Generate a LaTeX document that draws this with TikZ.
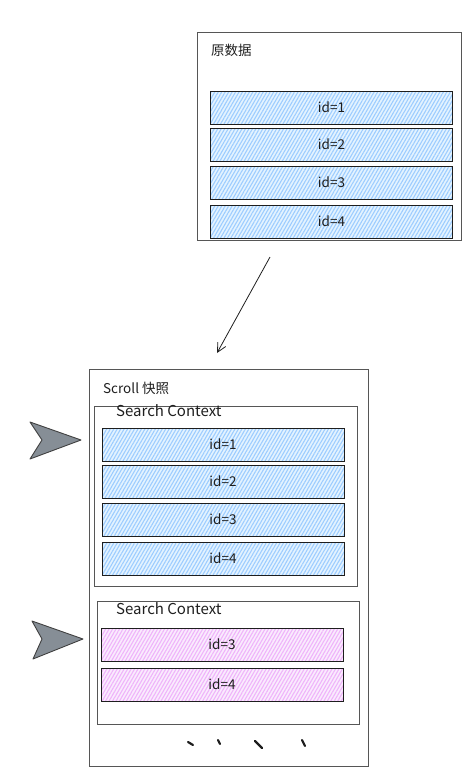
\documentclass[tikz,border=0pt]{standalone}
\usepackage{fontspec}
\setmainfont{Noto Sans CJK SC}
\usetikzlibrary{arrows.meta}
\usetikzlibrary{positioning, patterns.meta}
\definecolor{rowblue}{HTML}{A5D8FF}
\definecolor{rowpink}{HTML}{EEBEFA}
\definecolor{ink}{HTML}{1E1E1E}
\definecolor{pointergray}{HTML}{868E96}

\begin{document}
\begin{tikzpicture}[x=1pt, y=-1pt, >={Straight Barb[length=9pt, width=9pt]}]
		\tikzstyle{panel}=[rectangle, draw=ink!75, line width=.8pt, inner sep=0pt]
		\tikzstyle{heading}=[anchor=west, inner sep=0pt, text=ink, font=\fontsize{13.5}{15}\selectfont]
		\tikzstyle{row}=[rectangle, draw=ink, line width=1pt, minimum width=242pt, minimum height=33pt, inner sep=0pt, text=ink, font=\fontsize{13.5}{15}\selectfont]
		\tikzstyle{bluerow}=[row, preaction={fill=rowblue!30}, pattern={Lines[angle=60, distance=3pt, line width=1.1pt]}, pattern color=rowblue!95!blue]
		\tikzstyle{pinkrow}=[row, preaction={fill=rowpink!30}, pattern={Lines[angle=60, distance=3pt, line width=1.1pt]}, pattern color=rowpink!95!magenta]
		\tikzstyle{pointer}=[fill=pointergray, draw=ink!85, line width=.9pt, line join=round]
		\tikzstyle{scribble}=[draw=ink, line width=2.2pt, line cap=round]
		\useasboundingbox (0,0) rectangle (472,776);
		% source data
		\node[panel, minimum width=264pt, minimum height=208pt] (source) at (329,136) {};
		\node[heading] (srctitle) at (211,50) {原数据};
		\node[bluerow] (u1) at (331.5,107.5) {id=1};
		\node[bluerow] (u2) [below =3pt of u1] {id=2};
		\node[bluerow] (u3) [below =4pt of u2] {id=3};
		\node[bluerow] (u4) [below =5pt of u3] {id=4};
		\coordinate (from) at (270,257);
		\coordinate (to) at (217,353);
		\draw[->, line width=.8pt, ink] (from) -- (to);
		% scroll snapshot
		\node[panel, minimum width=279pt, minimum height=397pt] (snapshot) at (228.5,567.5) {};
		\node[heading] (snaptitle) at (103,388) {Scroll 快照};
		\node[panel, minimum width=263pt, minimum height=180pt] (ctxa) at (225.5,496) {};
		\node[heading, font=\fontsize{15}{17}\selectfont] (ctxalabel) at (116,411) {Search Context};
		\node[bluerow] (s1) at (223,444.5) {id=1};
		\node[bluerow] (s2) [below =3pt of s1] {id=2};
		\node[bluerow] (s3) [below =4pt of s2] {id=3};
		\node[bluerow] (s4) [below =5pt of s3] {id=4};
		\node[panel, minimum width=262pt, minimum height=123pt] (ctxb) at (228,662.5) {};
		\node[heading, font=\fontsize{15}{17}\selectfont] (ctxblabel) at (116,609) {Search Context};
		\node[pinkrow] (p3) at (222,644.5) {id=3};
		\node[pinkrow] (p4) [below =6pt of p3] {id=4};
		%\node[pinkrow] (p5) [below =6pt of p4] {id=5};
		\draw[pointer] (30,422) -- (81,440) -- (30,459) -- (42,440) -- cycle;
		\draw[pointer] (32,621) -- (83,639) -- (33,659) -- (42,639) -- cycle;
		\draw[scribble] (188,742) -- (193,745);
		\draw[scribble] (218,740) -- (220,744);
		\draw[scribble] (255,741) -- (262,748);
		\draw[scribble] (302,740) -- (305,746);
	\end{tikzpicture}
\end{document}
